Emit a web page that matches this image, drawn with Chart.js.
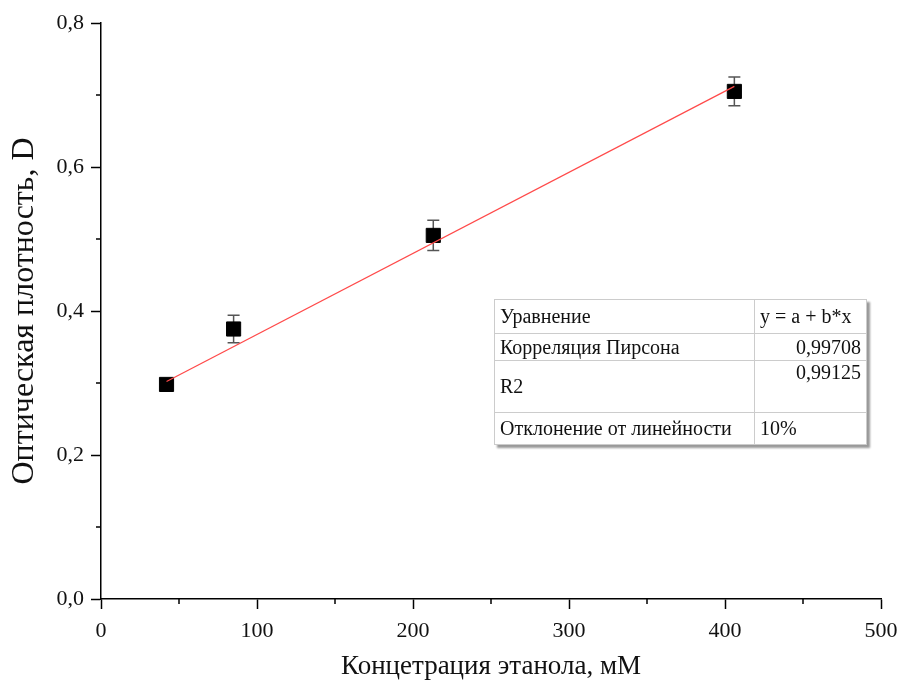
<!DOCTYPE html>
<html>
<head>
<meta charset="utf-8">
<script src="https://cdn.jsdelivr.net/npm/chart.js@4"></script>
<style>
  body { margin: 0; background: #fff; }
  #wrap { position: relative; width: 902px; height: 685px; }
  #fitTable {
    position: absolute; left: 494px; top: 299px;
    border-collapse: collapse; background: #fff; table-layout: fixed;
    font-family: "Liberation Serif", serif; font-size: 20px; color: #111;
    box-shadow: 3px 3px 2px #999;
    border: 1px solid #777;
  }
  #fitTable td { border: 1px solid #ccc; padding: 0 5px; white-space: nowrap; }
  #fitTable td.k { width: 249px; }
  #fitTable td.v { text-align: right; width: 101px; }
</style>
</head>
<body>
<div id="wrap">
  <canvas id="calibChart" width="902" height="685"></canvas>
  <table id="fitTable">
    <tr style="height:34px"><td class="k">Уравнение</td><td class="v" style="text-align:left">y = a + b*x</td></tr>
    <tr style="height:27px"><td class="k">Корреляция Пирсона</td><td class="v">0,99708</td></tr>
    <tr style="height:52px"><td class="k">R2</td><td class="v" style="vertical-align:top">0,99125</td></tr>
    <tr style="height:32px"><td class="k">Отклонение от линейности</td><td class="v" style="text-align:left">10%</td></tr>
  </table>
</div>
<script>
const concentrations = [42, 85, 213, 406];
const density = [0.298, 0.375, 0.505, 0.705];
const densityErr = [0.004, 0.019, 0.021, 0.02];
const fitX = [42, 406];
const fitY = [0.302, 0.712];

document.addEventListener("DOMContentLoaded", function () {
  const serif = "'Liberation Serif', 'Times New Roman', serif";

  // error bars (under the markers) + short minor ticks
  const extras = {
    id: "extras",
    beforeDatasetsDraw(chart) {
      const ctx = chart.ctx;
      const xs = chart.scales.x, ys = chart.scales.y;
      ctx.save();
      ctx.strokeStyle = "#555";
      ctx.lineWidth = 1.5;
      concentrations.forEach((c, i) => {
        const px = xs.getPixelForValue(c);
        const top = ys.getPixelForValue(density[i] + densityErr[i]);
        const bot = ys.getPixelForValue(density[i] - densityErr[i]);
        ctx.beginPath();
        ctx.moveTo(px, top); ctx.lineTo(px, bot);
        ctx.moveTo(px - 6, top); ctx.lineTo(px + 6, top);
        ctx.moveTo(px - 6, bot); ctx.lineTo(px + 6, bot);
        ctx.stroke();
      });
      ctx.restore();
    },
    afterDraw(chart) {
      const ctx = chart.ctx;
      const xs = chart.scales.x, ys = chart.scales.y;
      const area = chart.chartArea;
      ctx.save();
      ctx.strokeStyle = "#000";
      ctx.lineWidth = 1.5;
      ctx.beginPath();
      for (let v = 50; v < 500; v += 100) {
        const px = xs.getPixelForValue(v);
        ctx.moveTo(px, area.bottom); ctx.lineTo(px, area.bottom + 5);
      }
      for (let v = 0.1; v < 0.8; v += 0.2) {
        const py = ys.getPixelForValue(v);
        ctx.moveTo(area.left, py); ctx.lineTo(area.left - 5, py);
      }
      ctx.stroke();
      ctx.restore();
    }
  };

  const isMajor = (v, step) => Math.abs(Math.round(v / step) * step - v) < 1e-6;

  new Chart(document.getElementById("calibChart"), {
    type: "scatter",
    data: {
      datasets: [
        {
          label: "D",
          data: concentrations.map((c, i) => ({ x: c, y: density[i] })),
          pointStyle: "rect",
          pointRadius: 10,
          backgroundColor: "#000",
          borderColor: "#000",
          order: 2
        },
        {
          label: "fit",
          type: "line",
          data: fitX.map((c, i) => ({ x: c, y: fitY[i] })),
          borderColor: "#ff4a4a",
          borderWidth: 1.2,
          pointRadius: 0,
          fill: false,
          order: 1
        }
      ]
    },
    options: {
      responsive: false,
      animation: false,
      layout: { padding: { top: 23, right: 21, left: 0, bottom: 0 } },
      plugins: { legend: { display: false }, tooltip: { enabled: false } },
      scales: {
        x: {
          type: "linear",
          min: 0, max: 500,
          afterFit: s => { s.height = 86; s.paddingLeft = 0; s.paddingRight = 0; },
          border: { display: true, color: "#000", width: 1.5 },
          grid: {
            drawOnChartArea: false, tickLength: 10, tickWidth: 1.5,
            tickColor: c => isMajor(c.tick.value, 100) ? "#000" : "rgba(0,0,0,0)"
          },
          ticks: {
            stepSize: 50, autoSkip: false, maxRotation: 0, padding: 9,
            color: "#111", font: { family: serif, size: 22 },
            callback: v => isMajor(v, 100) ? String(v) : ""
          },
          title: {
            display: true, text: "Концетрация этанола, мМ", color: "#111",
            font: { family: serif, size: 27 }, padding: { top: 0, bottom: 2 }
          }
        },
        y: {
          type: "linear",
          min: 0, max: 0.8,
          afterFit: s => { s.width = 101; s.paddingTop = 0; s.paddingBottom = 0; },
          border: { display: true, color: "#000", width: 1.5 },
          grid: {
            drawOnChartArea: false, tickLength: 10, tickWidth: 1.5,
            tickColor: c => isMajor(c.tick.value, 0.2) ? "#000" : "rgba(0,0,0,0)"
          },
          ticks: {
            stepSize: 0.1, autoSkip: false, padding: 7,
            color: "#111", font: { family: serif, size: 22 },
            callback: v => isMajor(v, 0.2) ? v.toFixed(1).replace(".", ",") : ""
          },
          title: {
            display: true, text: "Оптическая плотность, D", color: "#111",
            font: { family: serif, size: 32 }, padding: { top: 5, bottom: 0 }
          }
        }
      }
    },
    plugins: [extras]
  });
});
</script>
</body>
</html>
